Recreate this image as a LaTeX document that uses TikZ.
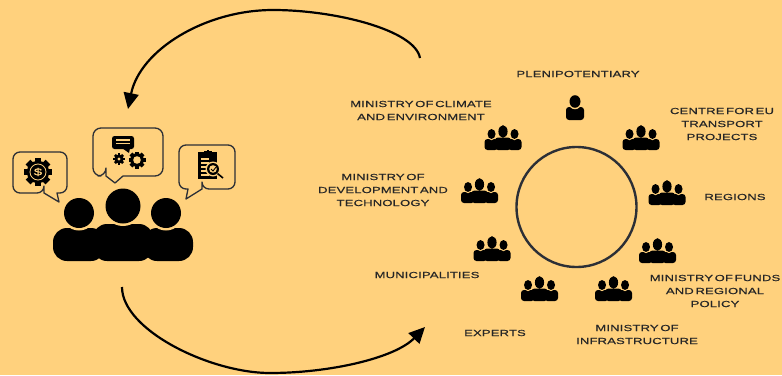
\documentclass[tikz,border=0pt]{standalone}
\usepackage{fontspec}
\setmainfont{Liberation Sans}[FakeStretch=1.48,FakeBold=0.5,WordSpace=0.45,LetterSpace=2]
\usetikzlibrary{arrows.meta}
\definecolor{bgcolor}{HTML}{FFD17D}
\definecolor{ringcolor}{HTML}{2C2F36}
\tikzset{
    label/.style={align=center,inner sep=0pt,font=\fontsize{8.8}{13}\selectfont,text=black!85},
    bubble/.style={draw=ringcolor,line width=1.3pt,line join=round},
    bigarrow/.style={line width=2.2pt,-{Triangle[length=16pt,width=15pt]}},
    pics/people/.style={code={
        \foreach \a/\b in {-18.5/-5,5/18.5} \fill[rounded corners=3pt] (\a,0) rectangle (\b,-11);
        \fill[rounded corners=3pt] (-8,0) rectangle (8,-12.5);
        \fill[bgcolor] (-11.5,-16) ellipse [x radius=5.2pt,y radius=6.2pt];
        \fill[bgcolor] (11.5,-16) ellipse [x radius=5.2pt,y radius=6.2pt];
        \fill (-11.5,-16) ellipse [x radius=4pt,y radius=5pt];
        \fill (11.5,-16) ellipse [x radius=4pt,y radius=5pt];
        \fill (0,-18.5) ellipse [x radius=4.6pt,y radius=6.3pt];
    }},
    pics/gear/.style={code={
        \foreach \a in {0,45,...,315} \fill[rotate=\a] (-2.4,0) rectangle (2.4,10);
        \fill (0,0) circle (8pt);
    }}
}
\begin{document}
\begin{tikzpicture}[x=1pt,y=-1pt]
    \fill[bgcolor] (0,0) rectangle (782,375);
    \useasboundingbox (0,0) rectangle (782,375);

    \coordinate (backstart) at (420,58);
    \coordinate (backtop) at (273,10);
    \coordinate (backend) at (128,109);
    \coordinate (outstart) at (122,287);
    \coordinate (outlow) at (270,373);
    \coordinate (outend) at (425,327);
    \draw[bigarrow] (backstart) .. controls (415,30) and (335,10) .. (backtop) .. controls (205,10) and (140,50) .. (backend);
    \draw[bigarrow] (outstart) .. controls (122,330) and (210,373) .. (outlow) .. controls (330,373) and (395,358) .. (outend);

    % big group
    \foreach \a/\b in {53/105,143/193} \fill[rounded corners=14pt] (\a,261) rectangle (\b,228);
    \fill[rounded corners=14pt] (93,261) rectangle (153,224);
    \foreach \a/\b/\r in {79/213/15,166/213/15,123/206/17.5} \fill[bgcolor] (\a,\b) circle ({\r+2.5});
    \foreach \a/\b/\r in {79/213/15,166/213/15,123/206/17.5} \fill (\a,\b) circle (\r pt);

    \draw[bubble] (44,193) -- (59,202) -- (57,193) {[rounded corners=7pt] -- (67,193) -- (67,152) -- (13,152) -- (13,193) -- (44,193)} -- cycle;
    \draw[bubble] (106,176) -- (115,183) -- (123,176) {[rounded corners=8pt] -- (163,176) -- (163,128) -- (93,128) -- (93,176) -- (106,176)} -- cycle;
    \draw[bubble] (202,189) -- (186,199) -- (188,189) {[rounded corners=7pt] -- (179,189) -- (179,145) -- (235,145) -- (235,189) -- (202,189)} -- cycle;

    % money gear
    \pic[scale=1.4] (moneygear) at (38,172) {gear};
    \draw[bgcolor,line width=0.8pt] (38,172) circle (8pt);
    \node[inner sep=0pt,text=bgcolor,font=\fontsize{10}{10}\selectfont] (dollar) at (38,172) {\$};

    % chat and gears
    \fill[rounded corners=2.5pt] (112,136) rectangle (134,149);
    \fill (122,148) -- (130,148) -- (129,153) -- cycle;
    \foreach \y in {140,143.5} \draw[bgcolor,line width=1.1pt] (116,\y) -- (130,\y);
    \pic[scale=0.58] (smallgear) at (119,159) {gear};
    \fill[bgcolor] (119,159) circle (1.6pt);
    \pic[scale=0.85] (largegear) at (137,160) {gear};
    \fill[bgcolor] (137,160) circle (3.8pt);

    % clipboard
    \fill (198,152) rectangle (217,179);
    \fill (204,151) rectangle (212,155);
    \fill (207,150) rectangle (209,152);
    \foreach \y in {159,163,167,171,175} \draw[bgcolor,line width=1.1pt] (201,\y) -- (209,\y);
    \fill[bgcolor] (213,169) circle (7.5pt);
    \fill (213,169) circle (6pt);
    \fill[bgcolor] (213,169) circle (3.8pt);
    \draw[line width=0.9pt] (211,169) -- (213,171) -- (216,167);
    \draw[line width=1.6pt] (217.5,173.5) -- (223,178);

    % ring with the partners
    \node[circle,draw=ringcolor,line width=2.4pt,minimum size=120pt,inner sep=0pt] (ring) at (576.5,207) {};
    \foreach \n/\x/\y in {climate/503/150,development/479.5/203,centre/641/150,regions/667/205,funds/657.5/263,infrastructure/613.5/301,experts/539.5/301,municipalities/492/261}
        \pic (\n) at (\x,\y) {people};
    \fill[rounded corners=3pt] (566,120) rectangle (584,107);
    \fill[bgcolor] (575,101.5) ellipse [x radius=6.8pt,y radius=7.8pt];
    \fill (575,101.5) ellipse [x radius=5.5pt,y radius=6.3pt];

    \node[label] (plenipotentiary) at (578,74) {PLENIPOTENTIARY};
    \node[label] (climatetext) at (421,110.5) {MINISTRY OF CLIMATE\\AND ENVIRONMENT};
    \node[label] (developmenttext) at (383,190) {MINISTRY OF\\DEVELOPMENT AND\\TECHNOLOGY};
    \node[label] (centretext) at (722,124) {CENTRE FOR EU\\TRANSPORT\\PROJECTS};
    \node[label] (regionstext) at (735,197) {REGIONS};
    \node[label] (fundstext) at (715,291) {MINISTRY OF FUNDS\\AND REGIONAL\\POLICY};
    \node[label] (infrastructuretext) at (637,334.5) {MINISTRY OF\\INFRASTRUCTURE};
    \node[label] (expertstext) at (495,333) {EXPERTS};
    \node[label] (municipalitiestext) at (427,275) {MUNICIPALITIES};
\end{tikzpicture}
\end{document}
